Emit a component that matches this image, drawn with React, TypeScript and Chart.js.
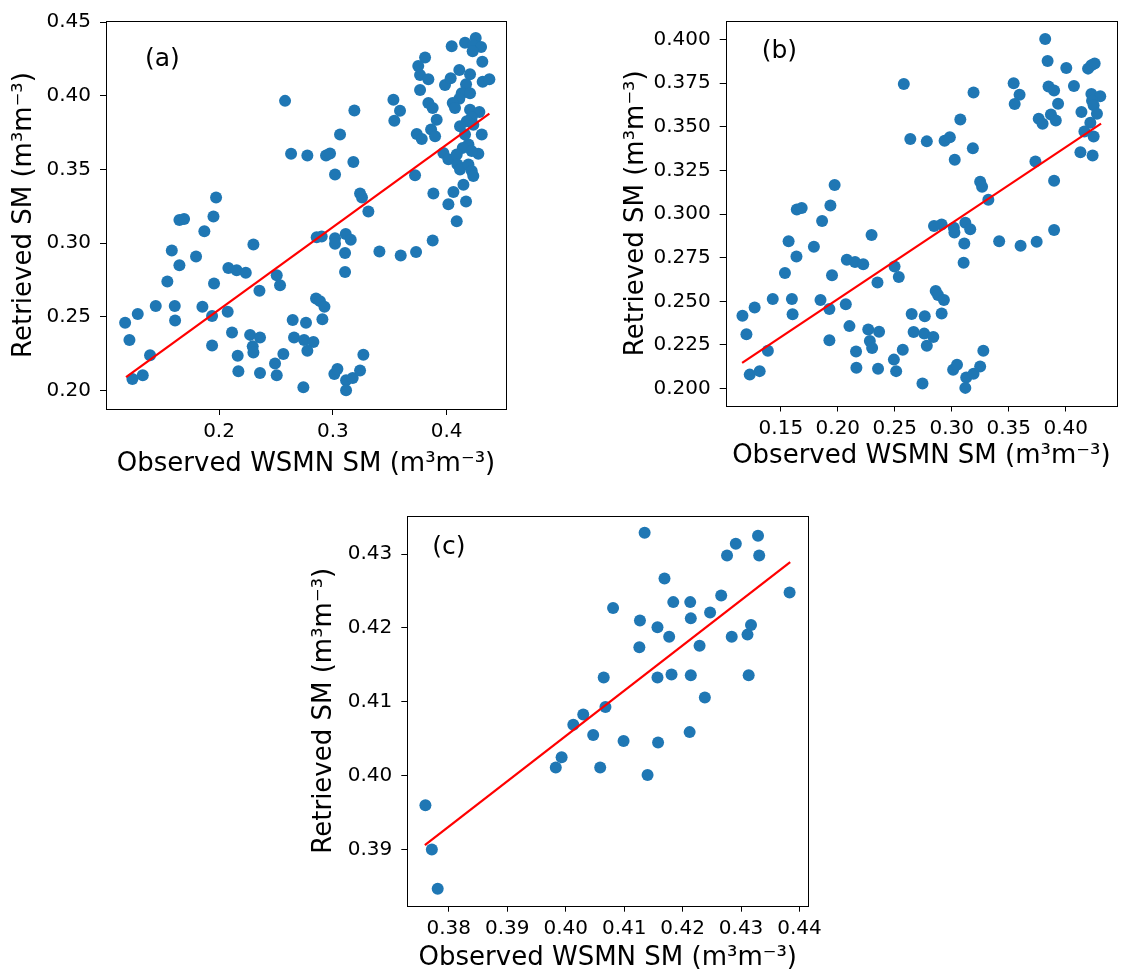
import React, { useEffect, useRef } from "react";
import { Chart, registerables } from "chart.js";
Chart.register(...registerables);

const FONT = "'DejaVu Sans', 'Liberation Sans', sans-serif";
const X_TITLE = "Observed WSMN SM (m³m⁻³)";
const Y_TITLE = "Retrieved SM (m³m⁻³)";

// ---------- Panel (a) ----------
const aObserved = [
  0.4044, 0.4161, 0.4255, 0.4234, 0.4302, 0.4228, 0.4313, 0.381, 0.375, 0.3766,
  0.3839, 0.3766, 0.3985, 0.4035, 0.4111, 0.4205, 0.4316, 0.4375, 0.417, 0.4132,
  0.4205, 0.4111, 0.4053, 0.4073, 0.3839, 0.3877, 0.4205, 0.4287, 0.422, 0.4176,
  0.3912, 0.4117, 0.4234, 0.4161, 0.4308, 0.3737, 0.3781, 0.3863, 0.3898, 0.4191,
  0.4141, 0.3971, 0.4015, 0.4088, 0.4278, 0.422, 0.4094, 0.4117, 0.4191, 0.422,
  0.4234, 0.3722, 0.4147, 0.4059, 0.3883, 0.4015, 0.417, 0.4088, 0.3877, 0.3731,
  0.3596, 0.3409, 0.3532, 0.359, 0.354, 0.258, 0.3189, 0.3063, 0.2633, 0.2776,
  0.294, 0.2975, 0.318, 0.3019, 0.3239, 0.3256, 0.3312, 0.2858, 0.2902, 0.3019,
  0.3019, 0.3113, 0.3157, 0.3107, 0.3107, 0.2507, 0.2536, 0.2355, 0.2302, 0.2082,
  0.2155, 0.2235, 0.1956, 0.1974, 0.1951, 0.1871, 0.1652, 0.1693, 0.1585, 0.1652,
  0.1798, 0.1546, 0.1444, 0.1611, 0.1614, 0.1854, 0.1939, 0.2076, 0.1286, 0.1175,
  0.1213, 0.1394, 0.1239, 0.133, 0.1939, 0.2114, 0.2164, 0.217, 0.2273, 0.236,
  0.2296, 0.2302, 0.236, 0.2492, 0.2565, 0.2507, 0.2647, 0.2764, 0.2659, 0.2747,
  0.2829, 0.2776, 0.2852, 0.2887, 0.2926, 0.2908, 0.2741, 0.3013, 0.304, 0.3116,
  0.3174, 0.3239, 0.3268, 0.3116,
];
const aRetrieved = [
  0.4336, 0.436, 0.4392, 0.4342, 0.4331, 0.4302, 0.423, 0.4259, 0.4201, 0.414,
  0.4111, 0.4039, 0.4073, 0.4118, 0.4174, 0.4145, 0.4095, 0.4111, 0.4077, 0.4017,
  0.4017, 0.3979, 0.395, 0.3916, 0.395, 0.3916, 0.3904, 0.3889, 0.3853, 0.3826,
  0.3837, 0.3792, 0.3803, 0.3736, 0.3736, 0.374, 0.3707, 0.377, 0.3725, 0.3669,
  0.3646, 0.3612, 0.3568, 0.3601, 0.3606, 0.3624, 0.3534, 0.35, 0.3534, 0.3489,
  0.3455, 0.346, 0.3395, 0.3347, 0.3336, 0.3264, 0.3282, 0.3148, 0.3017, 0.2939,
  0.2916, 0.2943, 0.3972, 0.3898, 0.383, 0.3965, 0.39, 0.3736, 0.3606, 0.3594,
  0.3594, 0.3608, 0.355, 0.3466, 0.3336, 0.3309, 0.3215, 0.304, 0.3044, 0.3033,
  0.2995, 0.3062, 0.3022, 0.2932, 0.2804, 0.2781, 0.2714, 0.2676, 0.299, 0.2831,
  0.2815, 0.2799, 0.2725, 0.3309, 0.3181, 0.308, 0.3157, 0.3163, 0.295, 0.2849,
  0.2909, 0.2739, 0.2573, 0.2573, 0.2474, 0.2568, 0.2505, 0.2534, 0.2519, 0.246,
  0.2343, 0.2238, 0.2078, 0.2103, 0.2305, 0.2393, 0.2236, 0.213, 0.2377, 0.2359,
  0.2299, 0.2258, 0.2119, 0.2182, 0.2247, 0.2103, 0.2478, 0.246, 0.2359, 0.2343,
  0.2328, 0.2269, 0.2624, 0.2606, 0.2568, 0.2483, 0.2022, 0.2112, 0.2146, 0.2069,
  0.2085, 0.2135, 0.2242, 0.2002,
];
const aFitX = [0.1183, 0.4375];
const aFitY = [0.209, 0.3878];
const aXTicks = [0.2, 0.3, 0.4];
const aYTicks = [0.2, 0.25, 0.3, 0.35, 0.4, 0.45];

// ---------- Panel (b) ----------
const bObserved = [
  0.382, 0.3841, 0.4005, 0.4196, 0.4225, 0.4254, 0.2579, 0.3191, 0.3543, 0.3595,
  0.3552, 0.3849, 0.3898, 0.4072, 0.3933, 0.4225, 0.4303, 0.4231, 0.4245, 0.4138,
  0.4274, 0.3763, 0.3797, 0.387, 0.3913, 0.4216, 0.4164, 0.4245, 0.3075, 0.2636,
  0.2781, 0.2937, 0.2983, 0.3185, 0.3026, 0.3734, 0.4129, 0.4236, 0.3898, 0.3249,
  0.3266, 0.3321, 0.1972, 0.1935, 0.164, 0.1683, 0.1862, 0.2296, 0.2844, 0.2911,
  0.3018, 0.3023, 0.3119, 0.3162, 0.311, 0.3104, 0.3416, 0.3604, 0.3745, 0.3898,
  0.1568, 0.179, 0.1637, 0.2079, 0.2151, 0.2223, 0.1949, 0.1536, 0.2498, 0.2535,
  0.2348, 0.1429, 0.1597, 0.1603, 0.1848, 0.1926, 0.207, 0.127, 0.1163, 0.1198,
  0.1386, 0.1227, 0.1314, 0.1926, 0.2102, 0.216, 0.2163, 0.2267, 0.2362, 0.2281,
  0.2301, 0.2353, 0.2492, 0.257, 0.2512, 0.2648, 0.2763, 0.2665, 0.2758, 0.2838,
  0.2781, 0.2859, 0.2879, 0.2931, 0.2911, 0.2743, 0.3012, 0.3046, 0.3127, 0.3191,
  0.3249, 0.3277, 0.3119,
];
const bRetrieved = [
  0.4004, 0.3878, 0.3838, 0.3834, 0.3853, 0.3863, 0.3746, 0.3697, 0.375, 0.3684,
  0.3631, 0.3731, 0.3708, 0.3735, 0.3633, 0.3688, 0.3675, 0.365, 0.3624, 0.3586,
  0.3575, 0.3547, 0.3518, 0.3571, 0.3537, 0.3524, 0.3473, 0.3445, 0.3543, 0.343,
  0.3417, 0.3421, 0.344, 0.3377, 0.3312, 0.3302, 0.3355, 0.3336, 0.3191, 0.3185,
  0.3157, 0.3082, 0.3167, 0.305, 0.3026, 0.3035, 0.296, 0.2881, 0.2932, 0.2941,
  0.2922, 0.2894, 0.295, 0.2913, 0.2832, 0.2721, 0.2845, 0.2819, 0.2841, 0.2909,
  0.2845, 0.2813, 0.2757, 0.2738, 0.2725, 0.2712, 0.2649, 0.2663, 0.27, 0.264,
  0.2608, 0.2514, 0.2514, 0.2426, 0.2508, 0.2456, 0.2484, 0.2465, 0.2418, 0.2311,
  0.2217, 0.208, 0.21, 0.2277, 0.2358, 0.2213, 0.2119, 0.2339, 0.2326, 0.2273,
  0.2232, 0.2113, 0.2166, 0.2222, 0.21, 0.2428, 0.2414, 0.2324, 0.2315, 0.2296,
  0.2245, 0.2559, 0.2537, 0.2508, 0.2431, 0.2029, 0.2108, 0.2136, 0.2063, 0.2085,
  0.2126, 0.2217, 0.2004,
];
const bFitX = [0.116, 0.431];
const bFitY = [0.2147, 0.3519];
const bXTicks = [0.15, 0.2, 0.25, 0.3, 0.35, 0.4];
const bYTicks = [0.2, 0.225, 0.25, 0.275, 0.3, 0.325, 0.35, 0.375, 0.4];

// ---------- Panel (c) ----------
const cObserved = [
  0.4135, 0.4329, 0.4291, 0.4276, 0.4331, 0.4169, 0.4383, 0.4266, 0.4081, 0.4184,
  0.4213, 0.4247, 0.4127, 0.4214, 0.4157, 0.4177, 0.4284, 0.4311, 0.4317, 0.4126,
  0.4229, 0.4065, 0.4157, 0.4181, 0.4214, 0.4313, 0.4238, 0.4068, 0.403, 0.4013,
  0.4047, 0.4099, 0.4158, 0.4212, 0.3993, 0.3983, 0.4059, 0.414, 0.376, 0.3771,
  0.3781,
];
const cRetrieved = [
  0.4329, 0.4325, 0.4314, 0.4298, 0.4298, 0.4267, 0.4248, 0.4244, 0.4227, 0.4235,
  0.4235, 0.4221, 0.421, 0.4213, 0.4201, 0.4188, 0.4188, 0.4191, 0.4204, 0.4174,
  0.4176, 0.4133, 0.4133, 0.4137, 0.4136, 0.4136, 0.4106, 0.4093, 0.4083, 0.4069,
  0.4055, 0.4047, 0.4045, 0.4059, 0.4025, 0.4011, 0.4011, 0.4001, 0.396, 0.39,
  0.3847,
];
const cFitX = [0.3759, 0.4384];
const cFitY = [0.3906, 0.4289];
const cXTicks = [0.38, 0.39, 0.4, 0.41, 0.42, 0.43, 0.44];
const cYTicks = [0.39, 0.4, 0.41, 0.42, 0.43];

type PanelCfg = {
  label: string;
  xs: number[];
  ys: number[];
  fitX: number[];
  fitY: number[];
  xTicks: number[];
  yTicks: number[];
  xDec: number;
  yDec: number;
  xMin: number;
  xMax: number;
  yMin: number;
  yMax: number;
  left: number;
  top: number;
  width: number;
  height: number;
  pad: { left: number; top: number; right: number; bottom: number };
  yWidth: number;
  xHeight: number;
  labelDx: number;
  labelDy: number;
};

const panels: PanelCfg[] = [
  {
    label: "(a)", xs: aObserved, ys: aRetrieved, fitX: aFitX, fitY: aFitY,
    xTicks: aXTicks, yTicks: aYTicks, xDec: 1, yDec: 2,
    xMin: 0.1007, xMax: 0.4521, yMin: 0.1874, yMax: 0.4507,
    left: 0, top: 0, width: 520, height: 480,
    pad: { left: 8.4, top: 19, right: 14, bottom: 0 },
    yWidth: 97.6, xHeight: 71, labelDx: 39, labelDy: 38,
  },
  {
    label: "(b)", xs: bObserved, ys: bRetrieved, fitX: bFitX, fitY: bFitY,
    xTicks: bXTicks, yTicks: bYTicks, xDec: 2, yDec: 3,
    xMin: 0.1016, xMax: 0.445, yMin: 0.1903, yMax: 0.4107,
    left: 600, top: 0, width: 523, height: 472,
    pad: { left: 20.4, top: 15, right: 1, bottom: 0 },
    yWidth: 105.3, xHeight: 66.5, labelDx: 36, labelDy: 30,
  },
  {
    label: "(c)", xs: cObserved, ys: cRetrieved, fitX: cFitX, fitY: cFitY,
    xTicks: cXTicks, yTicks: cYTicks, xDec: 2, yDec: 2,
    xMin: 0.3729, xMax: 0.4415, yMin: 0.3824, yMax: 0.4352,
    left: 290, top: 490, width: 540, height: 484,
    pad: { left: 18.4, top: 25.7, right: 21.7, bottom: 0 },
    yWidth: 98.9, xHeight: 68.3, labelDx: 25, labelDy: 32,
  },
];

const framePlugin = {
  id: "frameAndLabel",
  afterDraw(chart: any) {
    const { ctx, chartArea } = chart;
    const cfg = chart.options.plugins.frameAndLabel;
    ctx.save();
    ctx.strokeStyle = "#000";
    ctx.lineWidth = 1;
    ctx.strokeRect(
      Math.round(chartArea.left) + 0.5,
      Math.round(chartArea.top) + 0.5,
      Math.round(chartArea.right - chartArea.left),
      Math.round(chartArea.bottom - chartArea.top)
    );
    ctx.fillStyle = "#000";
    ctx.font = `25px ${FONT}`;
    ctx.textAlign = "left";
    ctx.textBaseline = "middle";
    ctx.fillText(cfg.text, chartArea.left + cfg.dx, chartArea.top + cfg.dy);
    ctx.restore();
  },
};

function Panel({ p }: { p: PanelCfg }) {
  const ref = useRef<HTMLCanvasElement | null>(null);
  useEffect(() => {
    if (!ref.current) return;
    const tickFont = { family: FONT, size: 20 };
    const titleFont = { family: FONT, size: 26 };
    const chart = new Chart(ref.current, {
      type: "scatter",
      data: {
        datasets: [
          {
            type: "line",
            data: p.fitX.map((x, i) => ({ x, y: p.fitY[i] })),
            borderColor: "#ff0000",
            borderWidth: 2.2,
            pointRadius: 0,
            fill: false,
            tension: 0,
          } as any,
          {
            type: "scatter",
            data: p.xs.map((x, i) => ({ x, y: p.ys[i] })),
            backgroundColor: "#1f77b4",
            borderWidth: 0,
            pointRadius: 6,
            pointHoverRadius: 6,
          },
        ],
      },
      options: {
        responsive: false,
        animation: false,
        events: [],
        layout: { padding: p.pad },
        plugins: {
          legend: { display: false },
          tooltip: { enabled: false },
          frameAndLabel: { text: p.label, dx: p.labelDx, dy: p.labelDy },
        } as any,
        scales: {
          x: {
            type: "linear",
            position: "bottom",
            min: p.xMin,
            max: p.xMax,
            afterBuildTicks: (s: any) => {
              s.ticks = p.xTicks.map((v) => ({ value: v }));
            },
            afterFit: (s: any) => {
              s.height = p.xHeight;
            },
            ticks: {
              font: tickFont,
              color: "#000",
              padding: 5,
              maxRotation: 0,
              autoSkip: false,
              callback: (v: any) => Number(v).toFixed(p.xDec),
            },
            grid: {
              display: true,
              drawOnChartArea: false,
              drawTicks: true,
              tickLength: 6,
              color: "#000",
            },
            border: { display: false },
            title: {
              display: true,
              text: X_TITLE,
              font: titleFont,
              color: "#000",
              padding: 0,
            },
          },
          y: {
            type: "linear",
            position: "left",
            min: p.yMin,
            max: p.yMax,
            afterBuildTicks: (s: any) => {
              s.ticks = p.yTicks.map((v) => ({ value: v }));
            },
            afterFit: (s: any) => {
              s.width = p.yWidth;
            },
            ticks: {
              font: tickFont,
              color: "#000",
              padding: 9,
              autoSkip: false,
              callback: (v: any) => Number(v).toFixed(p.yDec),
            },
            grid: {
              display: true,
              drawOnChartArea: false,
              drawTicks: true,
              tickLength: 6,
              color: "#000",
            },
            border: { display: false },
            title: {
              display: true,
              text: Y_TITLE,
              font: titleFont,
              color: "#000",
              padding: 0,
            },
          },
        },
      },
      plugins: [framePlugin],
    });
    return () => chart.destroy();
  }, [p]);
  return (
    <canvas
      ref={ref}
      width={p.width}
      height={p.height}
      style={{
        position: "absolute",
        left: p.left,
        top: p.top,
        width: p.width,
        height: p.height,
      }}
    />
  );
}

export default function App() {
  return (
    <div
      style={{
        position: "absolute",
        left: 0,
        top: 0,
        width: 1123,
        height: 971,
        background: "#fff",
        overflow: "hidden",
      }}
    >
      {panels.map((p) => (
        <Panel key={p.label} p={p} />
      ))}
    </div>
  );
}
